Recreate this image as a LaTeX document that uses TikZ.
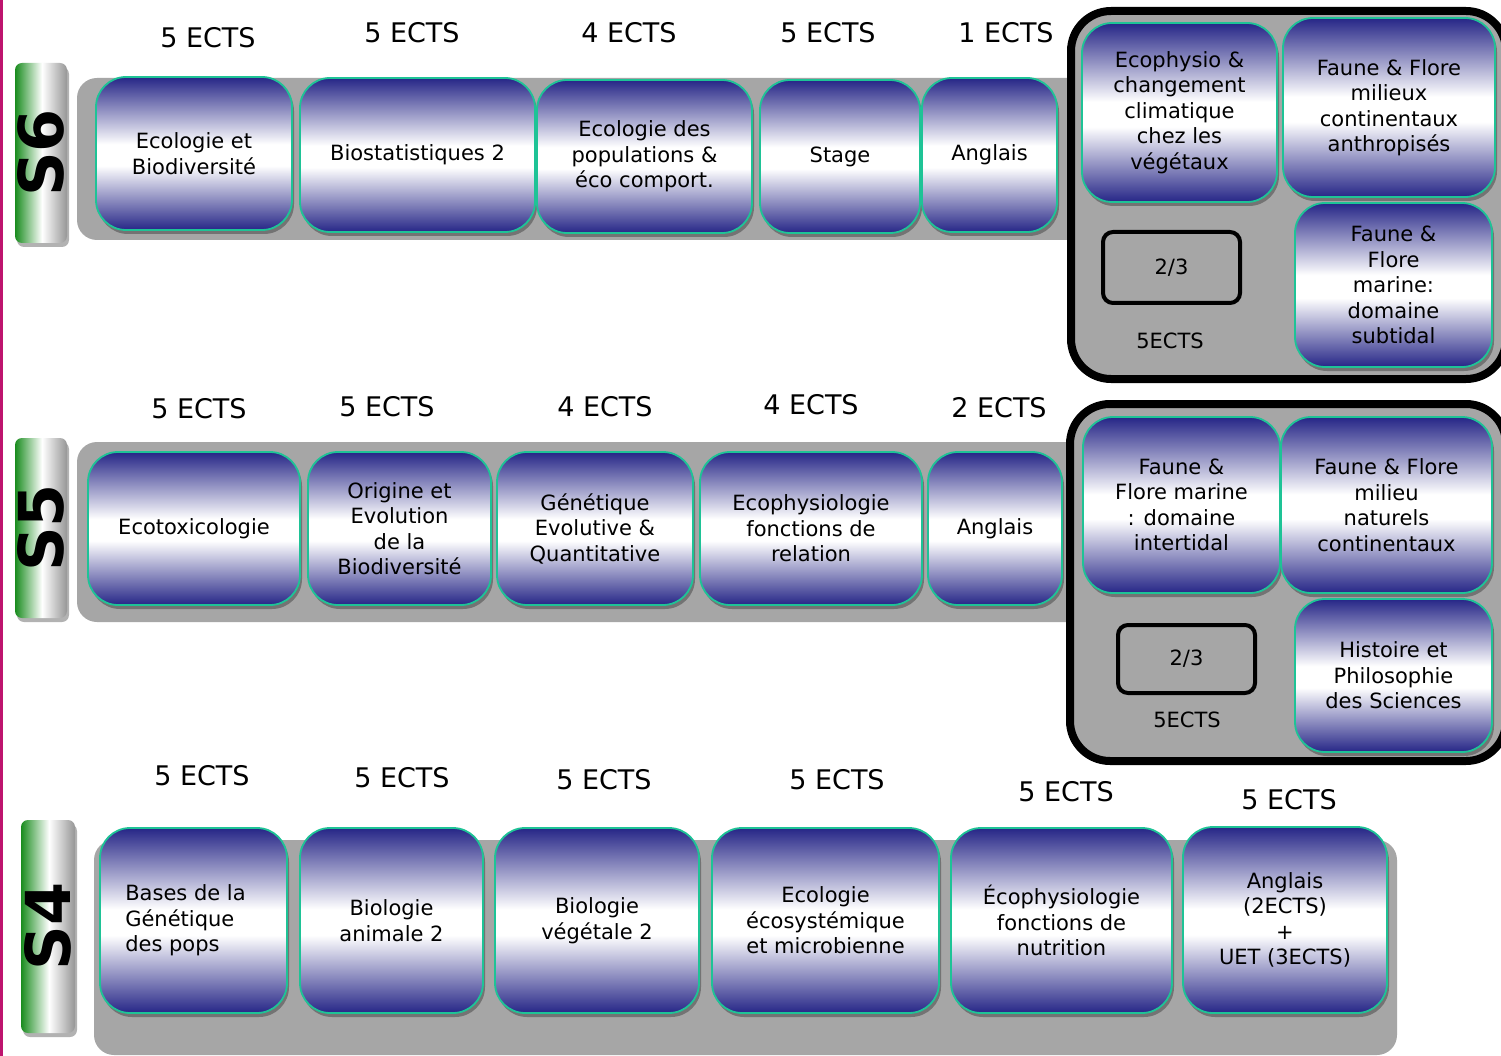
\documentclass[tikz,border=0pt]{standalone}
\usepackage{fontspec}
\setmainfont{DejaVu Sans}
\usetikzlibrary{shadows,fit}
\definecolor{boxblue}{RGB}{38,38,135}
\definecolor{tealedge}{RGB}{30,195,150}
\definecolor{bandgray}{RGB}{166,166,166}
\definecolor{tabgreen}{RGB}{25,140,30}
\definecolor{tabgray}{RGB}{150,150,150}
\definecolor{edgemag}{RGB}{190,20,110}
\pgfdeclareverticalshading{boxshade}{100bp}{color(0bp)=(boxblue); color(25bp)=(boxblue); color(46bp)=(white); color(53bp)=(white); color(75bp)=(boxblue); color(100bp)=(boxblue)}
\pgfdeclarehorizontalshading{tabshade}{100bp}{color(0bp)=(tabgreen); color(25bp)=(tabgreen); color(51bp)=(white); color(75bp)=(tabgray); color(100bp)=(tabgray)}
\tikzset{
  course/.style={draw=tealedge, line width=1.8pt, rounded corners=30pt, shading=boxshade,
    inner sep=0pt,
    drop shadow={shadow xshift=2pt, shadow yshift=-4pt, fill=black, opacity=0.3}},
  coursetext/.style={align=center, inner sep=0pt, font=\fontsize{21}{25.5}\selectfont},
  ects/.style={font=\fontsize{27}{30}\selectfont},
  band/.style={fill=bandgray, rounded corners=20pt, inner sep=0pt},
  optbox/.style={draw=black, line width=8pt, fill=bandgray, rounded corners=40pt, inner sep=0pt},
  choice/.style={draw=black, line width=4pt, rounded corners=10pt, inner sep=0pt},
  smalltxt/.style={font=\fontsize{21}{24}\selectfont, inner sep=0pt},
  semtab/.style={shading=tabshade, rounded corners=7pt, inner sep=0pt,
    drop shadow={shadow xshift=2pt, shadow yshift=-4pt, fill=black, opacity=0.3}},
  semlabel/.style={rotate=90, inner sep=0pt, font=\fontsize{62}{62}\bfseries\selectfont}
}
\newcommand\crsbox[6]{\node[course, fit={(#2,#3) (#4,#5)}] (#1) {};
  \node[coursetext] (#1t) at (#1.center) {#6};}
\begin{document}
\begin{tikzpicture}[x=1pt,y=-1pt]
\useasboundingbox (0,0) rectangle (1501,1056);
\fill[white] (0,0) rectangle (1501,1056);
\fill[edgemag] (0,0) rectangle (3,1056);

% ---------- S6 ----------
\node[semtab, fit={(15,63) (67,243)}] (tab6) {};
\node[semlabel] (lab6) at (tab6.center) {S6};
\node[band, fit={(77,78) (1090,240)}] (band6) {};
\node[optbox, fit={(1071,11) (1506,379)}] (opt6) {};
\crsbox{c61}{96}{77}{292}{230}{Ecologie et\\Biodiversité}
\crsbox{c62}{300}{78}{535}{232}{Biostatistiques 2}
\crsbox{c63}{537}{80}{752}{233}{Ecologie des\\populations \&\\éco comport.}
\crsbox{c64}{760}{80}{920}{233}{Stage}
\crsbox{c65}{922}{78}{1057}{232}{Anglais}
\crsbox{o61}{1082}{23}{1277}{202}{Ecophysio \&\\changement\\climatique\\chez les\\végétaux}
\crsbox{o62}{1283}{18}{1495}{197}{Faune \& Flore\\milieux\\continentaux\\anthropisés}
\crsbox{o63}{1295}{203}{1492}{367}{Faune \&\\Flore\\marine:\\domaine\\subtidal}
\node[choice, fit={(1103,232) (1240,303)}] (ch6) {};
\node[smalltxt] (ch6t) at (ch6.center) {2/3};
\node[smalltxt] (ects6o) at (1170,341) {5ECTS};
\node[ects] (e61) at (208,38) {5 ECTS};
\node[ects] (e62) at (412,33) {5 ECTS};
\node[ects] (e63) at (629,33) {4 ECTS};
\node[ects] (e64) at (828,33) {5 ECTS};
\node[ects] (e65) at (1006,33) {1 ECTS};

% ---------- S5 ----------
\node[semtab, fit={(15,438) (67,618)}] (tab5) {};
\node[semlabel] (lab5) at (tab5.center) {S5};
\node[band, fit={(77,442) (1090,622)}] (band5) {};
\node[optbox, fit={(1070,404) (1506,761)}] (opt5) {};
\crsbox{c51}{88}{452}{300}{605}{Ecotoxicologie}
\crsbox{c52}{308}{452}{491}{605}{Origine et\\Evolution\\de la\\Biodiversité}
\crsbox{c53}{497}{452}{693}{605}{Génétique\\Evolutive \&\\Quantitative}
\crsbox{c54}{700}{452}{922}{605}{Ecophysiologie\\fonctions de\\relation}
\crsbox{c55}{928}{452}{1062}{605}{Anglais}
\crsbox{o51}{1083}{417}{1280}{593}{Faune \&\\Flore marine\\: domaine\\intertidal}
\crsbox{o52}{1281}{417}{1492}{593}{Faune \& Flore\\milieu\\naturels\\continentaux}
\crsbox{o53}{1295}{599}{1492}{752}{Histoire et\\Philosophie\\des Sciences}
\node[choice, fit={(1118,625) (1255,693)}] (ch5) {};
\node[smalltxt] (ch5t) at (ch5.center) {2/3};
\node[smalltxt] (ects5o) at (1187,720) {5ECTS};
\node[ects] (e51) at (199,409) {5 ECTS};
\node[ects] (e52) at (387,407) {5 ECTS};
\node[ects] (e53) at (605,407) {4 ECTS};
\node[ects] (e54) at (811,405) {4 ECTS};
\node[ects] (e55) at (999,408) {2 ECTS};

% ---------- S4 ----------
\node[semtab, fit={(21,820) (75,1033)}] (tab4) {};
\node[semlabel] (lab4) at (tab4.center) {S4};
\node[band, fit={(94,840) (1397,1055)}] (band4) {};
\node[course, fit={(100,828) (287,1013)}] (c41) {};
\node[coursetext, align=left, anchor=west] (c41t) at ([xshift=26pt]c41.west) {Bases de la\\Génétique\\des pops};
\crsbox{c42}{300}{828}{483}{1013}{Biologie\\animale 2}
\crsbox{c43}{495}{828}{699}{1013}{Biologie\\végétale 2}
\crsbox{c44}{712}{828}{939}{1013}{Ecologie\\écosystémique\\et microbienne}
\crsbox{c45}{951}{828}{1172}{1013}{Écophysiologie\\fonctions de\\nutrition}
\crsbox{c46}{1183}{827}{1387}{1013}{Anglais\\(2ECTS)\\+\\UET (3ECTS)}
\node[ects] (e41) at (202,776) {5 ECTS};
\node[ects] (e42) at (402,778) {5 ECTS};
\node[ects] (e43) at (604,780) {5 ECTS};
\node[ects] (e44) at (837,780) {5 ECTS};
\node[ects] (e45) at (1066,792) {5 ECTS};
\node[ects] (e46) at (1289,800) {5 ECTS};
\end{tikzpicture}
\end{document}
